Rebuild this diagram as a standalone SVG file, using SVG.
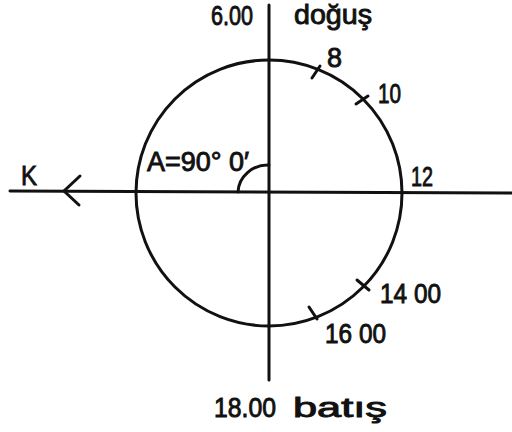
<svg xmlns="http://www.w3.org/2000/svg" width="512" height="432" viewBox="0 0 512 432">
<style>
.l{stroke:#111;stroke-width:3;fill:none;stroke-linecap:round}
.t{font-family:"Liberation Sans",Arial,sans-serif;font-size:27px;fill:#111;stroke:#111;stroke-width:0.9}
</style>
<rect width="512" height="432" fill="#fff"/>
<g id="connectors">
<line class="l" x1="269" y1="5" x2="269" y2="380"/>
<line class="l" x1="10" y1="191" x2="512" y2="193"/>
<polyline class="l" points="80,176 64,191 79,205"/>
<path class="l" d="M238,192 A30,28 0 0 1 269,165"/>
</g>
<g id="circle">
<circle class="l" cx="269" cy="193" r="133"/>
<line class="l" x1="312" y1="78" x2="320" y2="66"/>
<line class="l" x1="356" y1="104" x2="368" y2="96"/>
<line class="l" x1="357" y1="280" x2="369" y2="290"/>
<line class="l" x1="309" y1="307" x2="317" y2="319"/>
</g>
<g id="labels">
<text class="t" x="211" y="25" textLength="42" lengthAdjust="spacingAndGlyphs">6.00</text>
<text class="t" x="294" y="24" textLength="78" lengthAdjust="spacingAndGlyphs">doğuş</text>
<text class="t" x="327" y="67" textLength="15" lengthAdjust="spacingAndGlyphs">8</text>
<text class="t" x="378" y="103" textLength="23" lengthAdjust="spacingAndGlyphs">10</text>
<text class="t" x="411" y="186" textLength="22" lengthAdjust="spacingAndGlyphs">12</text>
<text class="t" x="380" y="303" textLength="61" lengthAdjust="spacingAndGlyphs">14 00</text>
<text class="t" x="325" y="343" textLength="61" lengthAdjust="spacingAndGlyphs">16 00</text>
<text class="t" x="214" y="417" textLength="62" lengthAdjust="spacingAndGlyphs">18.00</text>
<text class="t" x="293" y="417" textLength="94" lengthAdjust="spacingAndGlyphs">batış</text>
<text class="t" x="21" y="185" textLength="16" lengthAdjust="spacingAndGlyphs">K</text>
<text class="t" x="147" y="171" textLength="102" lengthAdjust="spacingAndGlyphs">A=90° 0′</text>
</g>
</svg>
